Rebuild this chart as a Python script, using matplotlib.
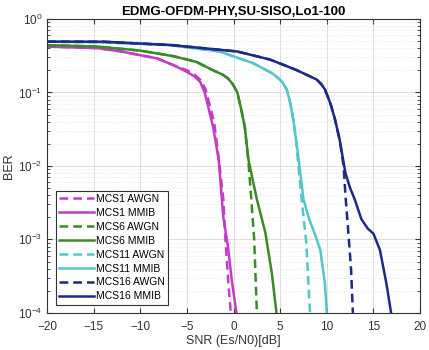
import matplotlib.pyplot as plt
import numpy as np

plt.rcParams["font.family"] = ["Liberation Sans", "DejaVu Sans"]

# data (SNR in dB, BER)
mcs1_mmib_snr = [-20, -14.6, -12, -10, -8.2, -6.3, -5, -4.2, -3.6, -3.1, -2.2, -1.6, -1.1, -0.6, -0.2, 0.3]
mcs1_mmib_ber = [0.42, 0.40, 0.36, 0.32, 0.29, 0.23, 0.19, 0.165, 0.14, 0.1, 0.034, 0.012, 2e-3, 8e-4, 2.8e-4, 1e-4]
mcs1_awgn_snr = [-20, -14.6, -12, -10, -8.2, -6.3, -5, -4.2, -3.6, -3.0, -2.1, -1.6, -1.1, -0.9, -0.6, -0.3]
mcs1_awgn_ber = [0.42, 0.40, 0.36, 0.32, 0.29, 0.23, 0.2, 0.175, 0.15, 0.11, 0.04, 0.013, 3.5e-3, 1.1e-3, 3e-4, 1e-4]

mcs6_mmib_snr = [-20, -14.6, -10, -6.4, -4.0, -2.2, -1.2, -0.6, -0.1, 0.4, 0.8, 1.2, 1.6, 2.5, 3.4, 4.1, 4.6]
mcs6_mmib_ber = [0.44, 0.42, 0.37, 0.31, 0.26, 0.2, 0.175, 0.155, 0.13, 0.1, 0.06, 0.034, 0.012, 3.5e-3, 1.25e-3, 3.5e-4, 1e-4]
mcs6_awgn_snr = [-20, -14.6, -10, -6.4, -4.0, -2.2, -1.2, -0.6, -0.1, 0.4, 0.8, 1.2, 1.6, 1.9, 2.2, 2.5]
mcs6_awgn_ber = [0.44, 0.42, 0.37, 0.31, 0.26, 0.2, 0.175, 0.155, 0.13, 0.1, 0.06, 0.034, 0.011, 3.5e-3, 1.05e-3, 1e-4]

mcs11_mmib_snr = [-20, -14, -6.8, -1.5, 2.1, 4.2, 4.7, 5.2, 5.7, 6.1, 6.4, 6.9, 7.5, 8.1, 8.7, 9.3, 9.8, 10.0]
mcs11_mmib_ber = [0.49, 0.48, 0.44, 0.36, 0.25, 0.18, 0.16, 0.14, 0.11, 0.07, 0.043, 0.015, 3.5e-3, 1.9e-3, 1.2e-3, 7.2e-4,
                  2.5e-4, 1e-4]
mcs11_awgn_snr = [-20, -14, -6.8, -1.5, 2.1, 4.2, 4.7, 5.2, 5.7, 6.1, 6.4, 6.7, 7.3, 7.8, 8.2]
mcs11_awgn_ber = [0.49, 0.48, 0.44, 0.36, 0.25, 0.18, 0.16, 0.14, 0.11, 0.07, 0.043, 0.022, 3.5e-3, 9e-4, 1e-4]

mcs16_mmib_snr = [-20, -14, -6.6, 0.4, 3.9, 6.0, 6.8, 8.2, 8.9, 9.4, 9.8, 10.4, 10.9, 11.4, 12.0, 12.5, 13.0,
                  13.7, 14.4, 15.0, 15.7, 16.4, 16.9]
mcs16_mmib_ber = [0.49, 0.49, 0.44, 0.36, 0.28, 0.22, 0.2, 0.165, 0.15, 0.13, 0.11, 0.07, 0.042, 0.022, 0.008, 5e-3,
                  3.5e-3, 1.9e-3, 1.4e-3, 1.2e-3, 7.2e-4, 2.5e-4, 1e-4]
mcs16_awgn_snr = [-20, -14, -6.6, 0.4, 3.9, 6.0, 6.8, 8.2, 8.9, 9.4, 9.8, 10.4, 10.9, 11.4, 11.8, 12.0, 12.3, 12.6, 12.8]
mcs16_awgn_ber = [0.49, 0.49, 0.44, 0.36, 0.28, 0.22, 0.2, 0.165, 0.15, 0.13, 0.11, 0.07, 0.042, 0.022, 0.01, 4e-3,
                  1.3e-3, 4e-4, 1e-4]

c1 = "#c23cc8"
c6 = "#3a8a26"
c11 = "#52c6c8"
c16 = "#1c2a88"

fig = plt.figure(figsize=(4.29, 3.5), dpi=100)
ax = fig.add_axes([0.11, 0.106, 0.869, 0.84])

lw = 1.8
dash = (0, (3.5, 2))
ax.semilogy(mcs1_awgn_snr, mcs1_awgn_ber, linestyle=dash, color=c1, lw=lw, label="MCS1 AWGN")
ax.semilogy(mcs1_mmib_snr, mcs1_mmib_ber, "-", color=c1, lw=lw, label="MCS1 MMIB")
ax.semilogy(mcs6_awgn_snr, mcs6_awgn_ber, linestyle=dash, color=c6, lw=lw, label="MCS6 AWGN")
ax.semilogy(mcs6_mmib_snr, mcs6_mmib_ber, "-", color=c6, lw=lw, label="MCS6 MMIB")
ax.semilogy(mcs11_awgn_snr, mcs11_awgn_ber, linestyle=dash, color=c11, lw=lw, label="MCS11 AWGN")
ax.semilogy(mcs11_mmib_snr, mcs11_mmib_ber, "-", color=c11, lw=lw, label="MCS11 MMIB")
ax.semilogy(mcs16_awgn_snr, mcs16_awgn_ber, linestyle=dash, color=c16, lw=lw, label="MCS16 AWGN")
ax.semilogy(mcs16_mmib_snr, mcs16_mmib_ber, "-", color=c16, lw=lw, label="MCS16 MMIB")

ax.set_xlim(-20, 20)
ax.set_ylim(1e-4, 1)
ax.set_xticks(np.arange(-20, 21, 5))
ax.grid(True, which="major", color="#d8d8d8", lw=0.6)
ax.grid(True, which="minor", color="#e0e0e0", lw=0.5, linestyle=":")
ax.tick_params(which="both", direction="in", top=True, right=True, labelsize=8.5, colors="#333333")
ax.tick_params(axis="x", pad=6)
for s in ax.spines.values():
    s.set_color("#333333")
    s.set_linewidth(0.8)

ax.set_title("EDMG-OFDM-PHY,SU-SISO,Lo1-100", fontsize=9.5, fontweight="bold", pad=3)
ax.set_xlabel("SNR (Es/N0)[dB]", fontsize=9, color="#333333", labelpad=1)
ax.set_ylabel("BER", fontsize=9, color="#333333", labelpad=2)

leg = ax.legend(loc="lower left", fontsize=7.5, handlelength=3.4, labelspacing=0.38,
                borderaxespad=0.8, fancybox=False, edgecolor="#333333", framealpha=1,
                handletextpad=0.2, borderpad=0.3)
leg.get_frame().set_linewidth(0.8)

fig.savefig("out.png", dpi=100)
